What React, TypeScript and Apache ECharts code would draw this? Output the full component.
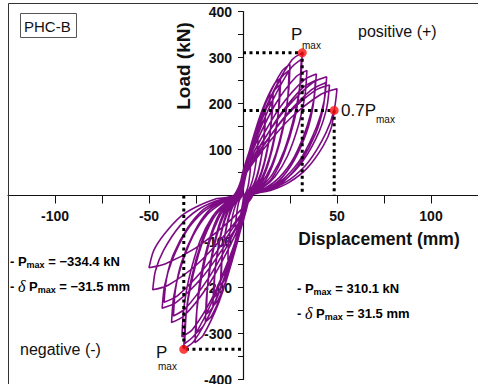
import React, { useEffect, useRef } from 'react';
import * as echarts from 'echarts';

// Hysteresis cycles [displacement (mm), load (kN)]
const cycle1 = [[0.4,1],[1.2,4],[2,11],[2.8,22],[3.5,41],[3.9,56],[4,70],[3.3,67],[2,51],[0.9,32],[0,12],[-0.4,0],[-1.2,-5],[-2,-11],[-2.8,-24],[-3.5,-44],[-3.9,-60],[-4,-75],[-3.3,-71],[-2,-55],[-0.9,-34],[0,-13],[0.4,0]];
const cycle2 = [[0.8,1],[2.4,8],[4,20],[5.6,42],[7,75],[7.8,104],[8,130],[6.6,124],[4.1,95],[1.8,59],[0,22],[-0.8,0],[-2.4,-8],[-4,-21],[-5.6,-45],[-7,-81],[-7.8,-112],[-8,-140],[-6.6,-133],[-4.1,-102],[-1.8,-63],[0,-24],[0.8,0]];
const cycle3 = [[1.2,2],[3.6,11],[6,27],[8.4,58],[10.6,104],[11.6,144],[12,180],[10,171],[6.1,131],[2.8,81],[0,31],[-1.2,0],[-3.6,-12],[-6,-29],[-8.4,-62],[-10.6,-113],[-11.6,-156],[-12,-195],[-10,-185],[-6.1,-142],[-2.8,-88],[0,-33],[1.2,0]];
const cycle3b = [[1.2,2],[3.5,8],[5.8,21],[8.1,50],[10.1,91],[11.2,129],[11.5,165],[9.5,155],[5.9,116],[2.6,69],[0,25],[-1.2,0],[-3.5,-9],[-5.8,-23],[-8.1,-53],[-10.1,-98],[-11.2,-139],[-11.5,-178],[-9.5,-167],[-5.9,-125],[-2.6,-75],[0,-27],[1.2,0]];
const cycle4 = [[1.6,2],[4.8,13],[8,33],[11.2,71],[14.1,129],[15.5,178],[16,222],[13.3,211],[8.2,162],[3.7,100],[0,38],[-1.6,0],[-4.8,-14],[-8,-36],[-11.2,-77],[-14.1,-139],[-15.5,-192],[-16,-240],[-13.3,-228],[-8.2,-175],[-3.7,-108],[0,-41],[1.6,0]];
const cycle4b = [[1.6,2],[4.7,10],[7.8,27],[10.9,62],[13.6,113],[15,160],[15.5,205],[12.9,193],[7.9,144],[3.6,86],[0,31],[-1.6,0],[-4.7,-11],[-7.8,-29],[-10.9,-67],[-13.6,-122],[-15,-173],[-15.5,-222],[-12.9,-209],[-7.9,-155],[-3.6,-93],[0,-33],[1.6,0]];
const cycle5 = [[2,3],[6,15],[10,38],[14,82],[17.6,148],[19.4,204],[20,255],[16.6,242],[10.2,186],[4.6,115],[0,43],[-2,0],[-6,-17],[-10,-41],[-14,-88],[-17.6,-160],[-19.4,-220],[-20,-275],[-16.6,-261],[-10.2,-201],[-4.6,-124],[0,-47],[2,0]];
const cycle5b = [[2,2],[5.9,12],[9.8,31],[13.7,72],[17.2,132],[18.9,187],[19.5,240],[16.2,226],[9.9,168],[4.5,101],[0,36],[-2,0],[-5.9,-13],[-9.8,-34],[-13.7,-77],[-17.2,-142],[-18.9,-201],[-19.5,-258],[-16.2,-243],[-9.9,-181],[-4.5,-108],[0,-39],[2,0]];
const cycle6 = [[2.5,3],[7.5,17],[12.5,43],[17.5,91],[22,165],[24.3,228],[25,285],[20.8,271],[12.8,208],[5.8,128],[0,48],[-2.5,0],[-7.7,-19],[-12.8,-48],[-17.9,-102],[-22.4,-186],[-24.7,-256],[-25.5,-320],[-21.2,-304],[-13,-234],[-5.9,-144],[0,-54],[2.6,0]];
const cycle6b = [[2.5,3],[7.4,14],[12.3,35],[17.2,82],[21.6,150],[23.8,212],[24.5,272],[20.3,256],[12.5,190],[5.6,114],[0,41],[-2.5,0],[-7.5,-15],[-12.5,-39],[-17.5,-90],[-22,-165],[-24.3,-234],[-25,-300],[-20.8,-282],[-12.8,-210],[-5.8,-126],[0,-45],[2.5,0]];
const cycle7 = [[3.2,3],[9.5,19],[15.8,47],[22,99],[27.7,180],[30.6,248],[31.5,310],[26.1,295],[16.1,226],[7.2,140],[0,53],[-3.2,0],[-9.5,-20],[-15.8,-50],[-22,-107],[-27.7,-194],[-30.6,-267],[-31.5,-334],[-26.1,-317],[-16.1,-244],[-7.2,-150],[0,-57],[3.2,0]];
const cycle7b = [[3.1,3],[9.3,15],[15.5,38],[21.7,89],[27.3,163],[30.1,231],[31,296],[25.7,278],[15.8,207],[7.1,124],[0,44],[-3.1,0],[-9.3,-16],[-15.5,-42],[-21.7,-97],[-27.3,-177],[-30.1,-251],[-31,-322],[-25.7,-303],[-15.8,-225],[-7.1,-135],[0,-48],[3.1,0]];
const cycle8 = [[3.4,3],[10.2,16],[17,41],[23.8,87],[29.9,158],[33,218],[34,272],[28.2,258],[17.3,199],[7.8,122],[0,46],[-3.4,0],[-9.8,-18],[-16.3,-46],[-22.8,-98],[-28.6,-178],[-31.5,-246],[-32.5,-307],[-27,-292],[-16.6,-224],[-7.5,-138],[0,-52],[3.3,0]];
const cycle9 = [[3.9,3],[11.7,16],[19.5,40],[27.3,84],[34.3,153],[37.8,211],[39,264],[32.4,251],[19.9,193],[9,119],[0,45],[-3.9,0],[-11.4,-17],[-19,-41],[-26.6,-88],[-33.4,-160],[-36.9,-221],[-38,-276],[-31.5,-262],[-19.4,-201],[-8.7,-124],[0,-47],[3.8,0]];
const cycle9b = [[3.9,3],[11.6,13],[19.3,33],[27,75],[33.9,138],[37.3,195],[38.5,250],[32,235],[19.6,175],[8.9,105],[0,38],[-3.9,0],[-11.1,-13],[-18.5,-34],[-25.9,-79],[-32.6,-144],[-35.9,-204],[-37,-262],[-30.7,-246],[-18.9,-183],[-8.5,-110],[0,-39],[3.7,0]];
const cycle10 = [[4.5,3],[13.4,15],[22.3,39],[31.2,83],[39.2,150],[43.2,206],[44.5,258],[36.9,245],[22.7,188],[10.2,116],[0,44],[-4.5,0],[-12.9,-15],[-21.5,-37],[-30.1,-78],[-37.8,-142],[-41.7,-196],[-43,-245],[-35.7,-233],[-21.9,-179],[-9.9,-110],[0,-42],[4.3,0]];
const cycle10b = [[4.4,2],[13.2,12],[22,32],[30.8,74],[38.7,135],[42.7,191],[44,245],[36.5,230],[22.4,172],[10.1,103],[0,37],[-4.4,0],[-12.6,-12],[-21,-30],[-29.4,-70],[-37,-128],[-40.7,-181],[-42,-232],[-34.9,-218],[-21.4,-162],[-9.7,-97],[0,-35],[4.2,0]];
const cycle11 = [[4.6,2],[13.8,14],[23,36],[32.2,77],[40.5,139],[44.6,192],[46,240],[38.2,228],[23.5,175],[10.6,108],[0,41],[-4.6,0],[-14.4,-12],[-24,-31],[-33.6,-66],[-42.2,-119],[-46.6,-164],[-48,-205],[-39.8,-195],[-24.5,-150],[-11,-92],[0,-35],[4.8,0]];
const cycle12 = [[5,2],[15,14],[25,35],[35,74],[44,135],[48.5,186],[50,232],[41.5,220],[25.5,169],[11.5,104],[0,39],[-5,0],[-15,-8],[-25,-25],[-33,-45],[-42,-85],[-47.5,-120],[-50,-157],[-41.5,-149],[-25.5,-115],[-11.5,-71],[0,-27],[5,0]];
const finalBranch = [[4.9,2],[14.6,11],[24.3,28],[34,59],[42.7,108],[47,148],[48.5,185]];

const hysteresis = [
  ...cycle1, ...cycle2, ...cycle3, ...cycle3b, ...cycle4, ...cycle4b, ...cycle5, ...cycle5b,
  ...cycle6, ...cycle6b, ...cycle7, ...cycle7b, ...cycle8, ...cycle9, ...cycle9b,
  ...cycle10, ...cycle10b, ...cycle11, ...cycle12, ...finalBranch,
];

// Key points
const posPmax = [31.5, 310.1];
const pos07Pmax = [48.5, 185];
const negPmax = [-31.5, -334.4];

const guidePos = [[0, posPmax[1]], posPmax, [posPmax[0], 0]];
const guide07 = [[0, pos07Pmax[1]], pos07Pmax, [pos07Pmax[0], 0]];
const guideNeg = [[negPmax[0], 0], negPmax, [0, negPmax[1]]];

const xRange = [-125, 125];
const yRange = [-400, 400];

const dotted = { color: '#000', width: 3, type: [3, 3.5] as any };

export default function App() {
  const ref = useRef<HTMLDivElement>(null);
  useEffect(() => {
    const chart = echarts.init(ref.current!, null, { renderer: 'svg' });
    const valFont = { fontFamily: 'Liberation Sans, Arial', fontWeight: 'bold', fontSize: 13, color: '#111' };
    const subFont = { fontFamily: 'Liberation Sans, Arial', fontWeight: 'bold', fontSize: 9, color: '#111', padding: [7, 0, 0, 0] };
    const deltaFont = { fontFamily: 'Liberation Serif', fontStyle: 'italic', fontSize: 16, color: '#111' };
    const gridLeft = 8, gridTop = 11.5, gridW = 470, gridH = 368;
    const zeroXOffset = -(gridH / 2); // move x axis from bottom edge to y = 0
    const zeroYOffset = -(gridW / 2); // move y axis from left edge to x = 0
    chart.setOption({
      animation: false,
      grid: { left: gridLeft, top: gridTop, width: gridW, height: gridH, outerBoundsMode: 'none', containLabel: false },
      xAxis: {
        type: 'value', min: xRange[0], max: xRange[1], interval: 25, position: 'bottom', offset: zeroXOffset,
        axisLine: { onZero: false, lineStyle: { color: '#111', width: 1.2 } },
        axisTick: { length: 8, lineStyle: { color: '#111' } },
        splitLine: { show: false },
        axisLabel: {
          margin: 13, fontSize: 14, fontWeight: 'bold', color: '#111', fontFamily: 'Liberation Sans, Arial',
          formatter: (v: number) => (v % 50 === 0 && v !== 0 ? String(v) : ''),
        },
      },
      yAxis: {
        type: 'value', min: yRange[0], max: yRange[1], interval: 50, position: 'left', offset: zeroYOffset,
        axisLine: { onZero: false, lineStyle: { color: '#111', width: 1.2 } },
        axisTick: { length: 5, lineStyle: { color: '#111' } },
        splitLine: { show: false },
        axisLabel: {
          margin: 11, fontSize: 14, fontWeight: 'bold', color: '#111', fontFamily: 'Liberation Sans, Arial',
          formatter: (v: number) => (v % 100 === 0 && v !== 0 ? String(v) : ''),
        },
      },
      series: [
        {
          type: 'line', data: hysteresis, symbol: 'none', smooth: 0.25,
          lineStyle: { color: '#7d0c84', width: 1.6 }, z: 3,
        },
        { type: 'line', data: guidePos, symbol: 'none', lineStyle: dotted, z: 4 },
        { type: 'line', data: guide07, symbol: 'none', lineStyle: dotted, z: 4 },
        { type: 'line', data: guideNeg, symbol: 'none', lineStyle: dotted, z: 4 },
        {
          type: 'scatter', data: [posPmax, pos07Pmax, negPmax], symbolSize: 9,
          itemStyle: { color: '#ff1010' }, z: 5,
        },
      ],
      graphic: [
        { type: 'rect', shape: { x: 8.5, y: 3.5, width: 470, height: 400 }, style: { fill: 'none', stroke: '#333', lineWidth: 1 }, z: 10 },
        { type: 'rect', shape: { x: 20.5, y: 13.5, width: 56, height: 24 }, style: { fill: '#fff', stroke: '#555', lineWidth: 1 }, z: 10 },
        { type: 'text', x: 24, y: 26, style: { text: 'PHC-B', font: '15px Liberation Sans, Arial', fill: '#111', verticalAlign: 'middle' }, z: 11 },
        { type: 'text', x: 183, y: 66, rotation: Math.PI / 2, style: { text: 'Load (kN)', font: 'bold 19px Liberation Sans, Arial', fill: '#111', align: 'center', verticalAlign: 'middle' }, z: 11 },
        { type: 'text', x: 379, y: 239, style: { text: 'Displacement (mm)', font: 'bold 17.5px Liberation Sans, Arial', fill: '#111', align: 'center', verticalAlign: 'middle' }, z: 11 },
        { type: 'text', x: 358, y: 31, style: { text: 'positive (+)', font: '16px Liberation Sans, Arial', fill: '#111', verticalAlign: 'middle' }, z: 11 },
        { type: 'text', x: 20, y: 349, style: { text: 'negative (-)', font: '16px Liberation Sans, Arial', fill: '#111', verticalAlign: 'middle' }, z: 11 },
        { type: 'text', x: 291, y: 34, style: { text: 'P', font: '17px Liberation Sans, Arial', fill: '#111', verticalAlign: 'middle' }, z: 11 },
        { type: 'text', x: 302, y: 45, style: { text: 'max', font: '10px Liberation Sans, Arial', fill: '#111', verticalAlign: 'middle' }, z: 11 },
        { type: 'text', x: 341, y: 110, style: { text: '0.7P', font: '17px Liberation Sans, Arial', fill: '#111', verticalAlign: 'middle' }, z: 11 },
        { type: 'text', x: 376, y: 119, style: { text: 'max', font: '10px Liberation Sans, Arial', fill: '#111', verticalAlign: 'middle' }, z: 11 },
        { type: 'text', x: 156, y: 352, style: { text: 'P', font: '17px Liberation Sans, Arial', fill: '#111', verticalAlign: 'middle' }, z: 11 },
        { type: 'text', x: 158, y: 366, style: { text: 'max', font: '10px Liberation Sans, Arial', fill: '#111', verticalAlign: 'middle' }, z: 11 },
        {
          type: 'text', x: 10, y: 261, z: 11,
          style: { text: '{a|- P}{s|max}{a| = −334.4 kN}', verticalAlign: 'middle', rich: { a: valFont, s: subFont } },
        },
        {
          type: 'text', x: 10, y: 286, z: 11,
          style: { text: '{a|- }{d|δ}{a| P}{s|max}{a| = −31.5 mm}', verticalAlign: 'middle', rich: { a: valFont, s: subFont, d: deltaFont } },
        },
        {
          type: 'text', x: 297, y: 288, z: 11,
          style: { text: '{a|- P}{s|max}{a| = 310.1 kN}', verticalAlign: 'middle', rich: { a: valFont, s: subFont } },
        },
        {
          type: 'text', x: 297, y: 313, z: 11,
          style: { text: '{a|- }{d|δ}{a| P}{s|max}{a| = 31.5 mm}', verticalAlign: 'middle', rich: { a: valFont, s: subFont, d: deltaFont } },
        },
      ],
    });
    return () => chart.dispose();
  }, []);
  return <div ref={ref} style={{ position: 'fixed', left: 0, top: 0, width: 478, height: 384, background: '#fff' }} />;
}
